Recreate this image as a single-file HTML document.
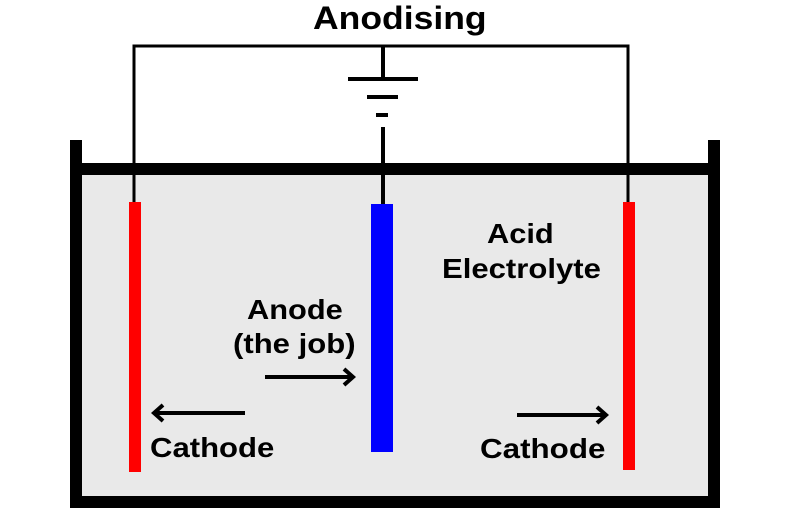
<!DOCTYPE html>
<html><head><style>
body{margin:0;background:#fff}
svg text{font-family:"Liberation Sans",Arial,sans-serif;font-weight:bold;fill:#000}
</style></head><body>
<svg width="800" height="513" viewBox="0 0 800 513" xmlns="http://www.w3.org/2000/svg">
<defs><marker id="ah" markerWidth="14" markerHeight="20" refX="11" refY="10" orient="auto" markerUnits="userSpaceOnUse"><path d="M2,2 L11,10 L2,18" fill="none" stroke="#000" stroke-width="4"/></marker></defs>
<rect x="82" y="175" width="626" height="322" fill="#e9e9e9"/>
<text transform="translate(313,29) scale(1.11,1)" font-size="32">Anodising</text>
<path d="M134,202 V46 H628 V202" fill="none" stroke="#000" stroke-width="3"/>
<path d="M383,46 V79 M348,79 H418 M367,97 H398 M376,115 H388 M383,127 V205" fill="none" stroke="#000" stroke-width="4"/>
<path d="M76,140 V502 H714 V140" fill="none" stroke="#000" stroke-width="12"/>
<rect x="82" y="163" width="626" height="12" fill="#000"/>
<rect x="129" y="202" width="12" height="270" fill="#f00"/>
<rect x="371" y="204" width="22" height="248" fill="#00f"/>
<rect x="623" y="202" width="12" height="268" fill="#f00"/>
<g font-size="28">
<text transform="translate(487,243) scale(1.1,1)">Acid</text>
<text transform="translate(442,278) scale(1.11,1)">Electrolyte</text>
<text transform="translate(247,319) scale(1.1,1)">Anode</text>
<text transform="translate(233,353) scale(1.11,1)">(the job)</text>
<text transform="translate(150,457) scale(1.11,1)">Cathode</text>
<text transform="translate(480,458) scale(1.12,1)">Cathode</text>
</g>
<path d="M265,377 H353" stroke="#000" stroke-width="4" marker-end="url(#ah)"/>
<path d="M245,413 H154" stroke="#000" stroke-width="4" marker-end="url(#ah)"/>
<path d="M517,415 H606" stroke="#000" stroke-width="4" marker-end="url(#ah)"/>
</svg>
</body></html>
